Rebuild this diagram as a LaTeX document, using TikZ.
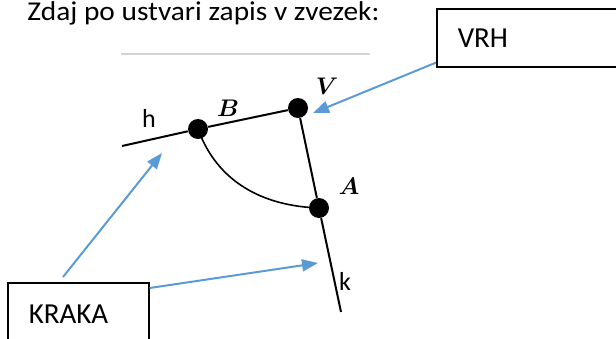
\documentclass[tikz,border=0pt]{standalone}
\usepackage{fontspec}
\setmainfont{Carlito}
\usepackage{amsmath,amssymb}
\usetikzlibrary{arrows.meta,positioning,calc}
\definecolor{callblue}{HTML}{5B9BD5}
\definecolor{rulegray}{HTML}{D4D4D4}

\begin{document}
\begin{tikzpicture}[x=0.5pt, y=-0.5pt,
          dot/.style={circle, fill=black, inner sep=0pt, minimum size=10pt},
          leg/.style={line width=1pt, black},
          ptlabel/.style={font=\fontsize{12}{14}\selectfont},
          sidelabel/.style={font=\fontsize{13}{15}\selectfont},
          callbox/.style={draw, line width=0.8pt, anchor=north west, inner xsep=10.5pt,
                          inner ysep=0pt, minimum height=29pt, align=left,
                          font=\fontsize{14.5}{16}\selectfont},
          pointer/.style={-{Triangle[length=8pt, width=6pt]}, callblue, line width=1pt}]
        \useasboundingbox (0,0) rectangle (616,338);
        \clip (0,0) rectangle (616,338);
        % naslov
        \node[anchor=base west, inner sep=0pt, xscale=1.08, font=\fontsize{13.6}{16}\selectfont] (title) at (27,20) {Zdaj po ustvari zapis v zvezek:};
        \draw[rulegray, line width=1pt] (121,54) -- (370,54);
        % kot
        \coordinate (hend) at (122,146);
        \coordinate (kend) at (341,312);
        \node[dot] (V) at (298,108) {};
        \node[dot] (B) at (198,129) {};
        \node[dot] (A) at (319,208) {};
        \draw[leg] (hend) -- (B) -- (V) -- (A) -- (kend);
        \draw[line width=0.8pt] (B.center) to[out=-70, in=178] (A.center);
        \node[ptlabel] (Blab) at (228,108) {$\boldsymbol{B}$};
        \node[ptlabel] (Vlab) at (327,86) {$\boldsymbol{V}$};
        \node[ptlabel] (Alab) at (349,186) {$\boldsymbol{A}$};
        \node[sidelabel] (hlab) at (149,118) {h};
        \node[sidelabel] (klab) at (345,281) {k};
        % okvirja
        \node[callbox, text width=100pt] (vrh) at (436,8) {VRH};
        \node[callbox, text width=49.5pt, minimum height=31pt] (kraka) at (7,282) {KRAKA};
        % puscice
        \coordinate (tipV) at (313,113);
        \coordinate (tipH) at (162,153);
        \coordinate (tipK) at (318,263);
        \draw[pointer] ([yshift=2.5pt]vrh.south west) -- (tipV);
        \draw[pointer] ([xshift=28pt, yshift=2.5pt]kraka.north west) -- (tipH);
        \draw[pointer] ([yshift=-3pt]kraka.north east) -- (tipK);
      \end{tikzpicture}
\end{document}
